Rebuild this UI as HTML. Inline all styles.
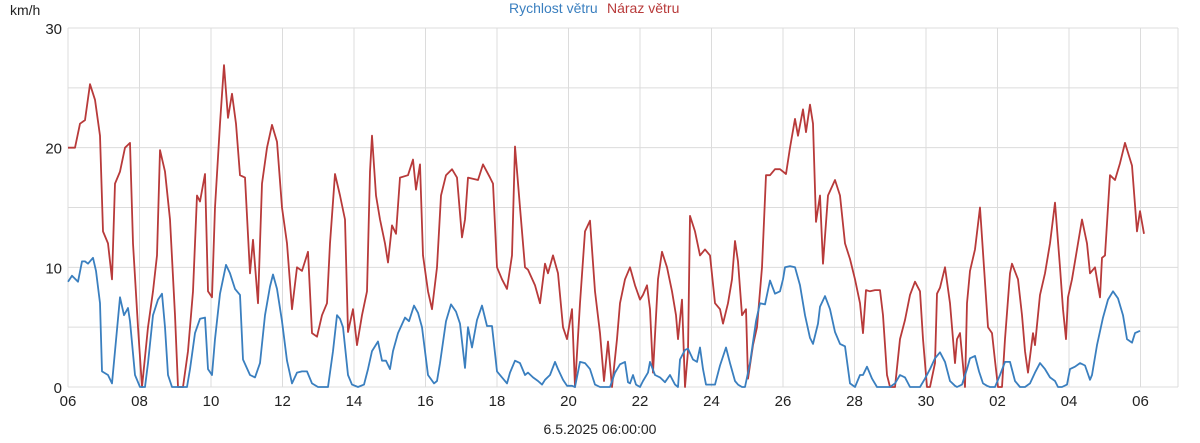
<!DOCTYPE html>
<html><head><meta charset="utf-8"><style>
body{margin:0;background:#fff;font-family:"Liberation Sans",sans-serif}
svg text{font-family:"Liberation Sans",sans-serif}
</style></head><body>
<svg id="chart" width="1200" height="438" xmlns="http://www.w3.org/2000/svg">
<g id="grid"></g>
<g id="axes"></g>
<g id="series"></g>
<text x="10" y="15" font-size="14" fill="#222">km/h</text>
<text x="509" y="13" font-size="14" fill="#3a7fbf">Rychlost větru</text>
<text x="607" y="13" font-size="14" fill="#b83a3a">Náraz větru</text>
<text x="600" y="434" font-size="14" fill="#222" text-anchor="middle">6.5.2025 06:00:00</text>
</svg>
<script>
const xTickLabels=["06","08","10","12","14","16","18","20","22","24","26","28","30","02","04","06"];
const yTicks=[0,5,10,15,20,25,30];
const yTickLabels=["0","","10","","20","","30"];
const gustT=[0,7,12,17,22,27,32,35,40,44,47,52,57,62,65,70,74,80,85,89,92,97,102,107,110,115,120,125,129,132,137,140,144,147,152,156,160,164,168,172,177,182,185,190,194,199,204,209,214,219,224,229,234,240,244,249,254,259,262,267,272,277,280,285,289,294,299,302,304,308,312,317,320,324,328,332,340,345,348,352,355,360,364,369,373,378,384,389,394,397,400,410,415,422,425,429,434,439,444,447,452,457,460,467,472,477,480,485,490,495,499,504,507,512,517,522,527,532,536,540,544,549,552,557,562,567,572,575,579,582,585,590,594,599,604,608,610,614,617,620,622,627,632,637,642,647,652,655,660,664,667,670,674,678,680,685,689,694,698,702,707,712,718,722,727,730,735,738,742,745,748,752,755,760,767,772,777,782,787,792,795,798,802,807,812,815,819,822,827,832,837,842,847,852,855,859,862,867,869,872,877,882,887,889,892,897,899,902,907,912,916,920,924,927,930,934,937,942,944,950,954,957,960,965,967,972,977,982,987,992,995,998,1000,1004,1009,1014,1019,1022,1027,1032,1034,1037,1042,1047,1052,1057,1064,1069,1072,1076,1082];
const gustV=[20,20,22,22.3,25.3,24,21,13,12,9,17,18,20,20.4,12,5,0,5,8,11,19.8,18,14,6,0,0,3,8,16,15.5,17.8,8,7.5,15,22,26.9,22.5,24.5,22,17.7,17.5,9.5,12.3,7,17,20,21.9,20.5,15,12,6.5,10,9.7,11.3,4.5,4.2,6,7,12,17.8,16,14,4.6,6.5,3.5,6,8,18,21,16,14,12,10.4,13.5,12.8,17.5,17.7,19,16.5,18.6,11,8,6.5,10,16,17.7,18.2,17.5,12.5,14,17.5,17.3,18.6,17.5,17,10,9,8.2,11,20.1,15,10,9.8,8.5,7,10.3,9.5,11,9.5,5,4,6.5,0,7,13,13.9,8,4.5,0.5,3.8,0,4,7,9,10,8.5,7.3,7.7,8.5,6.5,1.2,9,11.3,10,8,6,4,7.3,0,3,14.3,13,11,11.5,11,7,6.5,5.3,7,9,12.2,10.5,6,6.5,0.7,3.5,5,10,17.7,17.7,18.2,18.2,17.8,20,22.4,21,23.2,21.3,23.6,22,13.8,16,10.3,16,17.3,16,12,10.7,9,7,4.5,8.1,8,8.1,8.1,6,1,0,0,4,5.6,7.7,8.8,8,4,0,0,2,7.8,8.3,10,7,2,4,4.5,0,7,9.7,11.5,15,10,5,4.5,2.2,0,0,4,9.5,10.3,9,6,3,1.2,4.5,3.5,7.7,9.5,12,15.4,10,6.5,4,7.5,9,11.5,14,12,9.5,10,7.5,10.8,11,17.7,17.3,18.7,20.4,18.5,13,14.7,12.8];
const speedT=[0,4,10,14,17,20,25,28,32,34,40,44,47,52,56,60,62,67,72,77,80,85,90,94,97,100,104,110,115,119,122,127,132,137,140,144,147,152,158,162,167,172,175,175,182,187,192,197,202,205,209,214,219,224,229,234,239,244,250,255,260,265,269,272,275,280,284,290,296,300,304,310,314,318,322,325,330,337,341,346,350,354,357,360,366,369,372,378,383,388,392,397,400,404,409,414,419,424,429,434,439,442,447,452,457,460,465,470,474,477,482,487,490,495,499,504,507,512,517,522,527,532,537,542,547,552,557,560,562,565,568,572,575,580,582,587,592,597,602,607,610,612,617,620,625,629,632,635,638,642,647,652,658,662,667,670,674,677,682,688,692,697,702,707,712,715,717,722,727,732,737,742,745,750,752,757,762,767,772,777,782,787,792,795,799,804,809,812,817,822,827,832,837,842,847,852,857,862,867,872,877,882,887,889,894,899,902,907,911,915,919,922,927,932,937,942,947,952,957,962,967,972,977,982,987,990,994,999,1002,1007,1012,1017,1022,1024,1029,1035,1040,1045,1050,1055,1059,1064,1067,1072,1076,1080];
const speedV=[8.8,9.3,8.8,10.5,10.5,10.3,10.8,9.7,7,1.3,1,0.3,3,7.5,6,6.6,5.5,1,0,0,2,6,7.3,7.8,5,1,0,0,0,0,1.5,4.5,5.7,5.8,1.5,1,4,7.8,10.2,9.5,8.2,7.7,2.3,2.3,1,0.8,2,6,8.4,9.4,8.2,5.5,2.2,0.3,1.2,1.3,1.3,0.3,0,0,0,3,6,5.7,5,1,0.2,0,0.2,1.5,3,3.8,2.2,2.2,1.5,3,4.5,5.8,5.5,6.8,6.2,5,3,1,0.3,0.5,2,5.5,6.9,6.3,5.3,1.6,5,3.3,5.6,6.8,5.1,5.1,1.3,0.8,0.3,1.2,2.2,2,1,1.2,0.8,0.5,0.2,0.6,1,2.1,1.5,0.6,0.1,0.1,0,2.1,2,1.5,0.2,0,0,0,1.2,1.9,2.1,0.4,0.3,1,0.2,0,0.5,1.2,2.1,1,0.8,0.4,1,0.2,0,2.3,3.1,3.2,2.3,2.1,3.3,1.5,0.2,0.2,0.2,1.8,3.3,2,0.5,0.2,0,0,2,5.5,7,6.9,8.9,7.8,8,9,10,10.1,10,8.5,6,4.1,3.6,5.3,6.7,7.6,6.5,4.6,3.6,3.4,0.3,0,1,1,1.7,0.7,0,0,0,0,0.3,1,0.8,0,0,0,0.7,1.5,2.4,2.9,2.1,0.5,0.1,0,0.2,1.5,2.4,2.6,1.3,0.3,0.1,0,0,1,2.1,2.1,0.5,0,0,0.3,1.2,2,1.5,0.8,0.5,0,0,0.2,1.5,1.7,2,1.8,0.6,1,3.5,5.8,7.3,8,7.4,6,4,3.7,4.5,4.7];
// trim speed arrays to equal length
const nS=Math.min(speedT.length,speedV.length);
const nG=Math.min(gustT.length,gustV.length);
const X0=68,X1=1140.5,XSPAN=1072.5,Y0=387,Y1=28,YMAX=30;
const xScale=t=>X0+t*(X1-X0)/XSPAN;
const yScale=v=>Y0-v*(Y0-Y1)/YMAX;
const NS="http://www.w3.org/2000/svg";
const grid=document.getElementById('grid'),axes=document.getElementById('axes'),series=document.getElementById('series');
function mk(tag,attrs,parent){const e=document.createElementNS(NS,tag);for(const k in attrs)e.setAttribute(k,attrs[k]);parent.appendChild(e);return e;}
yTicks.forEach((v,i)=>{
 const l=mk('line',{x1:X0,x2:1178,y1:yScale(v),y2:yScale(v),stroke:'#dcdcdc','stroke-width':1},grid);
 
 
 if(yTickLabels[i]){const t=mk('text',{x:62,y:yScale(v)+6,'font-size':15,'text-anchor':'end',fill:'#222'},axes);t.textContent=yTickLabels[i];
 
 }
});
xTickLabels.forEach((lab,i)=>{
 const x=xScale(i*XSPAN/(xTickLabels.length-1));
 const l=mk('line',{x1:x,x2:x,y1:Y1,y2:Y0,stroke:'#dcdcdc','stroke-width':1},grid);
 
 
 const t=mk('text',{x:x,y:406,'font-size':15,'text-anchor':'middle',fill:'#222'},axes);t.textContent=lab;
 
 
});
const edge=mk('line',{x1:1178,x2:1178,y1:Y1,y2:Y0,stroke:'#dcdcdc'},grid);


function line(T,V,n,color,name){
 let d='';for(let i=0;i<n;i++)d+=(i?'L':'M')+xScale(T[i]).toFixed(1)+','+yScale(V[i]).toFixed(1);
 const p=mk('path',{d:d,fill:'none',stroke:color,'stroke-width':1.8,'stroke-linejoin':'round'},series);
 
 
}
line(gustT,gustV,nG,'#b83a3a','gust-line');
line(speedT,speedV,nS,'#3a7fbf','speed-line');
</script>
</body></html>
